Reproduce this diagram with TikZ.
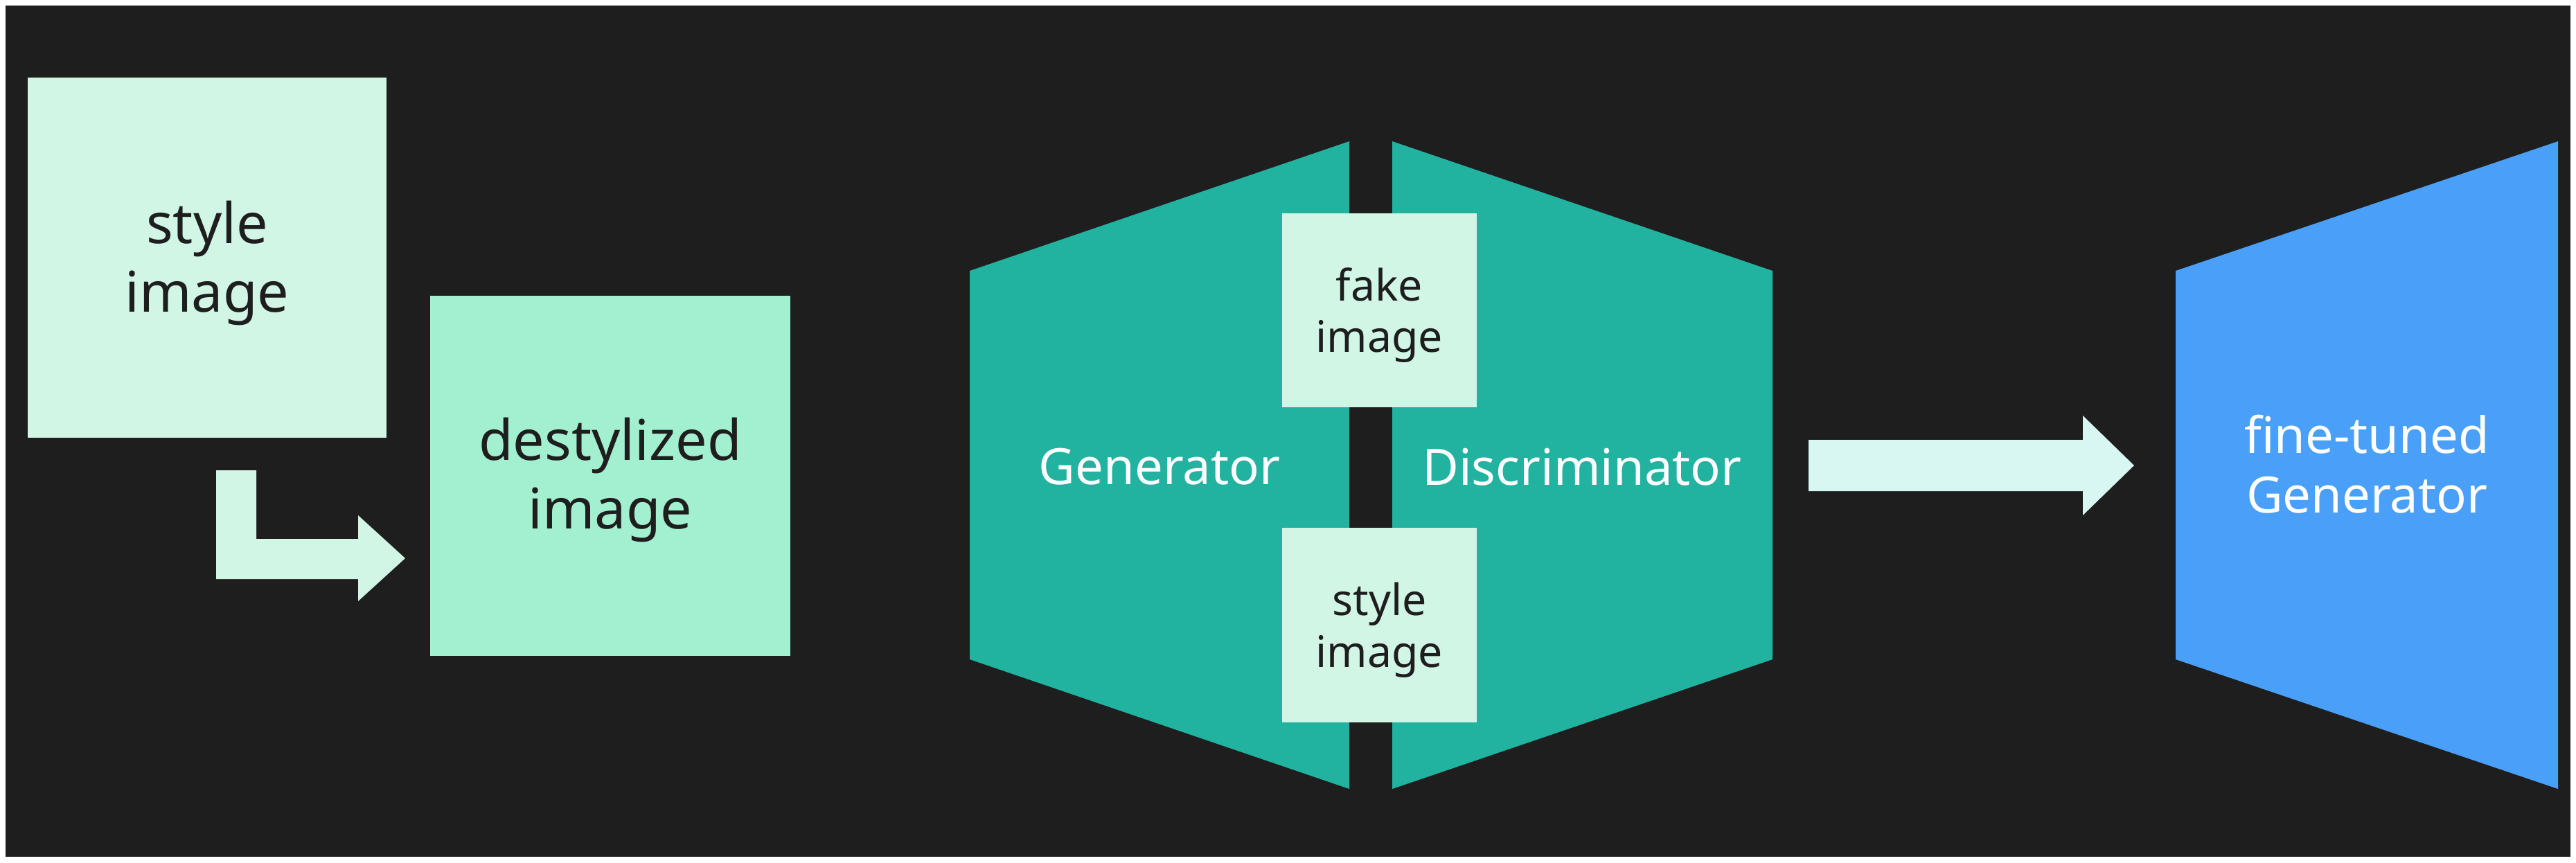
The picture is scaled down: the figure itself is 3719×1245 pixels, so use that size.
\documentclass[tikz,border=0pt]{standalone}
\usepackage{fontspec}
\setmainfont{Noto Sans}
\usepackage{xcolor}
\usetikzlibrary{positioning}
\definecolor{ground}{HTML}{1E1E1E}
\definecolor{mint}{HTML}{D1F6E6}
\definecolor{mintii}{HTML}{A3F0D0}
\definecolor{teal}{HTML}{22B2A0}
\definecolor{sky}{HTML}{4AA0F8}
\definecolor{pale}{HTML}{D8F6F2}
\definecolor{ink}{HTML}{1E1E1E}
\tikzset{
  card/.style     = {fill=mint, inner sep=0pt, outer sep=0pt},
  cardii/.style   = {fill=mintii, inner sep=0pt, outer sep=0pt},
  bigtxt/.style   = {font=\fontsize{23}{28.2}\selectfont\color{ink}, align=center, inner sep=0pt},
  smalltxt/.style = {font=\fontsize{17.8}{21.3}\selectfont\color{ink}, align=center, inner sep=0pt},
  nettxt/.style   = {font=\fontsize{20.6}{24.5}\selectfont\color{white}, align=center, inner sep=0pt},
  blockarrow/.style = {fill=pale},
}

\begin{document}
\begin{tikzpicture}[x=0.1mm,y=-0.1mm]
\path[use as bounding box] (0,0) rectangle (3719,1245);
\fill[white] (0,0) rectangle (3719,1245);
\fill[ground] (8,8) rectangle (3711,1237);

% ---- destylization ------------------------------------------------------
\node[card, minimum width=51.8mm, minimum height=52mm] (style) at (299,372) {};
\node[cardii, minimum width=52mm, minimum height=52mm] (destyl) at (881,687) {};
\node[bigtxt] (stylelab) at ([yshift=-0.8mm]style.center) {style\\image};
\node[bigtxt] (destyllab) at ([yshift=-0.6mm]destyl.center) {destylized\\image};

\fill[blockarrow, fill=mint] (312,679) -- (370,679) -- (370,778) -- (517,778) -- (517,744)
  -- (585,806) -- (517,868) -- (517,836) -- (312,836) -- cycle;

% ---- GAN: generator and discriminator -----------------------------------
\fill[teal] (1400,391) -- (1948,204) -- (1948,1139) -- (1400,952) -- cycle;
\fill[teal] (2010,204) -- (2559,391) -- (2559,952) -- (2010,1139) -- cycle;
\node[nettxt] (gen) at (1674,674) {Generator};
\node[nettxt] (disc) at (2284,674) {Discriminator};

\node[card, minimum width=28.1mm, minimum height=28mm] (fake) at (1991.5,448) {};
\node[card, minimum width=28.1mm, minimum height=28.1mm] (real) at (1991.5,902.5) {};
\node[smalltxt] (fakelab) at ([yshift=-0.7mm]fake.center) {fake\\image};
\node[smalltxt] (reallab) at ([yshift=-0.7mm]real.center) {style\\image};

% ---- result -------------------------------------------------------------
\fill[blockarrow] (2611,635) -- (3007,635) -- (3007,600) -- (3081,672) -- (3007,744)
  -- (3007,709) -- (2611,709) -- cycle;

\fill[sky] (3141,391) -- (3693,204) -- (3693,1139) -- (3141,952) -- cycle;
\node[nettxt] (tuned) at (3417,670) {fine-tuned\\Generator};

\end{tikzpicture}
\end{document}
